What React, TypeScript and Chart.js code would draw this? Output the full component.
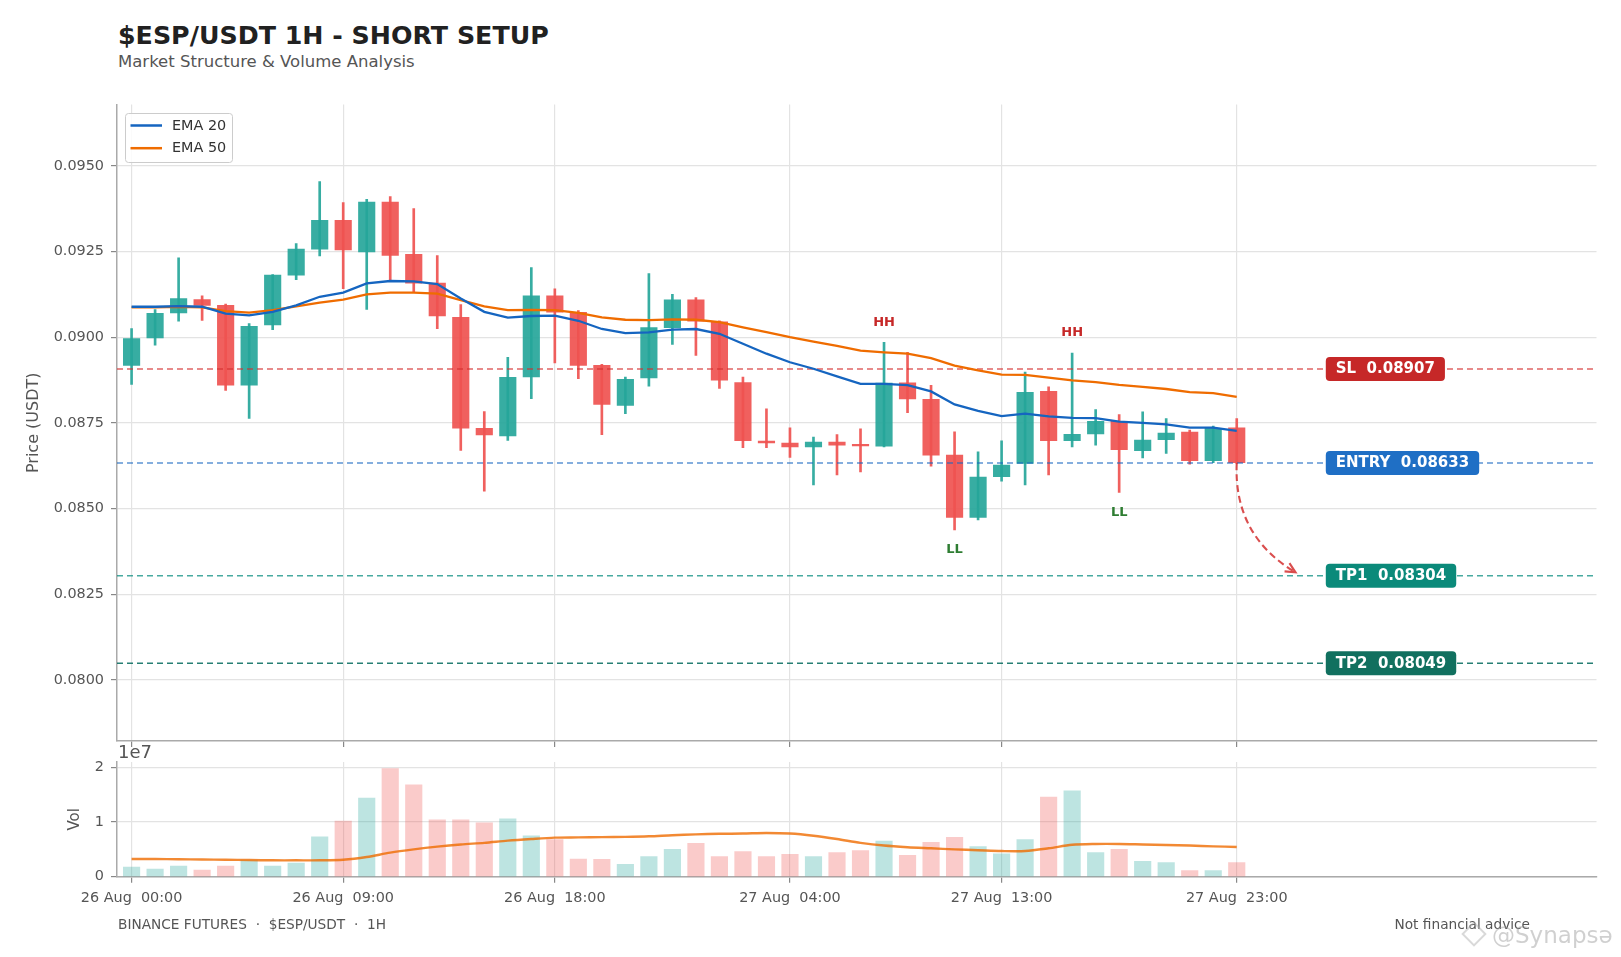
import React, { useEffect, useRef } from "react";
import { Chart, registerables } from "chart.js";

Chart.register(...registerables);

const FONT = "'DejaVu Sans', 'Noto Sans', sans-serif";

const categories = [
  "26 Aug 00:00", "26 Aug 01:00", "26 Aug 02:00", "26 Aug 03:00", "26 Aug 04:00", "26 Aug 05:00",
  "26 Aug 06:00", "26 Aug 07:00", "26 Aug 08:00", "26 Aug 09:00", "26 Aug 10:00", "26 Aug 11:00",
  "26 Aug 12:00", "26 Aug 13:00", "26 Aug 14:00", "26 Aug 15:00", "26 Aug 16:00", "26 Aug 17:00",
  "26 Aug 18:00", "26 Aug 19:00", "26 Aug 20:00", "26 Aug 21:00", "26 Aug 22:00", "26 Aug 23:00",
  "27 Aug 00:00", "27 Aug 01:00", "27 Aug 02:00", "27 Aug 03:00", "27 Aug 04:00", "27 Aug 05:00",
  "27 Aug 06:00", "27 Aug 07:00", "27 Aug 08:00", "27 Aug 09:00", "27 Aug 10:00", "27 Aug 11:00",
  "27 Aug 12:00", "27 Aug 13:00", "27 Aug 14:00", "27 Aug 15:00", "27 Aug 16:00", "27 Aug 17:00",
  "27 Aug 18:00", "27 Aug 19:00", "27 Aug 20:00", "27 Aug 21:00", "27 Aug 22:00", "27 Aug 23:00",
];

const opens = [
  0.08918, 0.08998, 0.09071, 0.0911, 0.09093, 0.0886, 0.09036, 0.09181, 0.09257, 0.09341, 0.09249, 0.09394,
  0.09242, 0.09158, 0.09058, 0.08734, 0.08712, 0.08884, 0.09121, 0.09073, 0.08918, 0.08801, 0.08881, 0.09028,
  0.09109, 0.09045, 0.08868, 0.08697, 0.08691, 0.0868, 0.08694, 0.08685, 0.08682, 0.08867, 0.08819, 0.08656,
  0.08474, 0.08593, 0.08632, 0.08842, 0.08698, 0.08718, 0.08755, 0.08669, 0.08701, 0.08723, 0.0864, 0.08736,
];
const highs = [
  0.09025, 0.09081, 0.09232, 0.09121, 0.09097, 0.0904, 0.09183, 0.09273, 0.09454, 0.09393, 0.09402, 0.0941,
  0.09375, 0.09238, 0.09095, 0.08783, 0.08941, 0.09203, 0.09141, 0.09078, 0.08921, 0.08884, 0.09186, 0.09125,
  0.09116, 0.09048, 0.08884, 0.08791, 0.08736, 0.08709, 0.08716, 0.08733, 0.08985, 0.08956, 0.0886, 0.08724,
  0.08666, 0.08698, 0.08898, 0.08855, 0.08954, 0.08789, 0.08774, 0.08782, 0.08763, 0.08729, 0.08741, 0.08763,
];
const lows = [
  0.08862, 0.08977, 0.09047, 0.09049, 0.08845, 0.08763, 0.09022, 0.09168, 0.09237, 0.09142, 0.09081, 0.09166,
  0.09132, 0.09025, 0.0867, 0.08551, 0.08699, 0.08821, 0.08925, 0.08879, 0.08716, 0.08777, 0.08857, 0.08979,
  0.08947, 0.08851, 0.08678, 0.08678, 0.08649, 0.08569, 0.08598, 0.08607, 0.0868, 0.0878, 0.08624, 0.08438,
  0.08467, 0.0858, 0.08569, 0.08598, 0.0868, 0.08685, 0.08547, 0.08648, 0.08661, 0.0863, 0.08634, 0.08632,
];
const closes = [
  0.08996, 0.0907, 0.09113, 0.09093, 0.0886, 0.09032, 0.09181, 0.09257, 0.09341, 0.09255, 0.09394, 0.09239,
  0.09158, 0.09062, 0.08735, 0.08715, 0.08883, 0.09121, 0.09073, 0.08918, 0.08804, 0.08877, 0.09028, 0.09109,
  0.09047, 0.08875, 0.08698, 0.08692, 0.0868, 0.08694, 0.08685, 0.08683, 0.08866, 0.0882, 0.08656, 0.08474,
  0.08592, 0.08627, 0.08839, 0.08698, 0.08717, 0.08755, 0.08672, 0.087, 0.0872, 0.0864, 0.08734, 0.08634,
];
const volumes = [
  1770000, 1400000, 1960000, 1220000, 1960000, 3060000, 1960000, 2500000, 7280000, 10200000, 14400000, 19800000,
  16800000, 10400000, 10400000, 9850000, 10600000, 7460000, 6800000, 3240000, 3200000, 2250000, 3700000, 5000000,
  6100000, 3700000, 4600000, 3700000, 4100000, 3700000, 4400000, 4800000, 6500000, 3900000, 6300000, 7200000,
  5500000, 4200000, 6800000, 14600000, 15700000, 4400000, 5000000, 2800000, 2600000, 1100000, 1100000, 2600000,
];
const ema20 = [
  0.09089, 0.09089, 0.09091, 0.09089, 0.09069, 0.09064, 0.09074, 0.09093, 0.09118, 0.0913, 0.09157, 0.09164,
  0.09163, 0.09155, 0.09113, 0.09074, 0.09057, 0.09062, 0.09063, 0.09048, 0.09024, 0.09012, 0.09014, 0.09022,
  0.09024, 0.0901, 0.08981, 0.08952, 0.08927, 0.08908, 0.08886, 0.08864, 0.08864, 0.0886, 0.08842, 0.08804,
  0.08785, 0.0877, 0.08777, 0.08769, 0.08765, 0.08764, 0.08754, 0.0875, 0.08746, 0.08736, 0.08736, 0.08727,
];
const ema50 = [
  0.09087, 0.09087, 0.09089, 0.09087, 0.09076, 0.09072, 0.09079, 0.0909, 0.09101, 0.0911, 0.09125, 0.0913,
  0.0913, 0.09127, 0.09108, 0.0909, 0.09079, 0.0908, 0.09079, 0.09071, 0.09058, 0.09051, 0.0905, 0.09052,
  0.09051, 0.09044, 0.09029, 0.09015, 0.09, 0.08987, 0.08975, 0.08961, 0.08956, 0.08952, 0.08939, 0.08917,
  0.08903, 0.08891, 0.0889, 0.08882, 0.08874, 0.08869, 0.08861, 0.08855, 0.08849, 0.0884, 0.08837, 0.08826,
];
const volMA = [
  3240000, 3230000, 3200000, 3150000, 3100000, 3050000, 3000000, 3000000, 3000000, 3100000, 3600000, 4400000,
  5000000, 5500000, 5900000, 6200000, 6600000, 6900000, 7150000, 7200000, 7250000, 7300000, 7400000, 7600000,
  7750000, 7850000, 7900000, 8000000, 7900000, 7500000, 6900000, 6200000, 5700000, 5400000, 5200000, 5000000,
  4850000, 4700000, 4700000, 5200000, 5850000, 6000000, 6000000, 5900000, 5800000, 5700000, 5550000, 5450000,
];

const xTickIndex = [0, 9, 18, 28, 37, 47];
const xTickLabels = ["26 Aug  00:00", "26 Aug  09:00", "26 Aug  18:00", "27 Aug  04:00", "27 Aug  13:00", "27 Aug  23:00"];
const priceTicks = [0.08, 0.0825, 0.085, 0.0875, 0.09, 0.0925, 0.095];
const volTicks = [0, 10000000, 20000000];
const levelNames = ["SL", "ENTRY", "TP1", "TP2"];
const levelValues = [0.08907, 0.08633, 0.08304, 0.08049];
const hhIndex = [32, 40];
const llIndex = [35, 42];

// view ranges / placement
const X_MIN = -0.62;
const X_MAX = 62.3;
const P_MIN = 0.07822;
const P_MAX = 0.09679;
const V_MAX = 21000000;
const LABEL_X = 51;
const LABEL_GAP = 0.00058;
const ARROW_END_X = 49.5;
const ARROW_END_Y = levelValues[2] + 0.0001;

const UP = "rgba(38,166,154,0.92)";
const DOWN = "rgba(239,83,80,0.92)";
const UP_VOL = "rgba(38,166,154,0.3)";
const DOWN_VOL = "rgba(239,83,80,0.3)";
const levelLineColors = ["rgba(211,47,47,0.75)", "rgba(21,101,192,0.7)", "rgba(0,137,123,0.72)", "rgba(0,105,92,0.85)"];
const levelBoxColors = ["#c62828", "#1f6fc5", "#0b8a7a", "#11705f"];
const GRID = "#e3e3e3";
const SPINE = "#aaaaaa";
const TICK = "#888888";
const TXT = "#555555";

const isUp = closes.map((c, i) => c >= opens[i]);

function zeroPad(scale: any) {
  scale.paddingTop = 0;
  scale.paddingBottom = 0;
  scale.paddingLeft = 0;
  scale.paddingRight = 0;
}

const gridOpts = { color: GRID, lineWidth: 1.2, tickLength: 6, tickColor: TICK, tickWidth: 1.2, offset: false };

const overlay = {
  id: "overlay",
  afterDatasetsDraw(chart: any) {
    const ctx = chart.ctx as CanvasRenderingContext2D;
    const xs = chart.scales.x;
    const ys = chart.scales.y;
    const area = chart.chartArea;
    ctx.save();

    // swing labels
    ctx.font = `bold 13px ${FONT}`;
    ctx.textAlign = "center";
    ctx.textBaseline = "middle";
    ctx.fillStyle = "#c62828";
    hhIndex.forEach((i) => ctx.fillText("HH", xs.getPixelForValue(i), ys.getPixelForValue(highs[i] + LABEL_GAP)));
    ctx.fillStyle = "#2e7d32";
    llIndex.forEach((i) => ctx.fillText("LL", xs.getPixelForValue(i), ys.getPixelForValue(lows[i] - LABEL_GAP)));

    // curved projection arrow
    const last = closes.length - 1;
    const x1 = xs.getPixelForValue(last);
    const y1 = ys.getPixelForValue(levelValues[1]);
    const x2 = xs.getPixelForValue(ARROW_END_X);
    const y2 = ys.getPixelForValue(ARROW_END_Y);
    const rad = -0.3;
    const cx = (x1 + x2) / 2 + rad * (y2 - y1);
    const cy = (y1 + y2) / 2 - rad * (x2 - x1);
    ctx.strokeStyle = "rgba(211,47,47,0.85)";
    ctx.lineWidth = 2.1;
    ctx.setLineDash([7, 4]);
    ctx.beginPath();
    ctx.moveTo(x1, y1);
    ctx.quadraticCurveTo(cx, cy, x2, y2);
    ctx.stroke();
    ctx.setLineDash([]);
    const ang = Math.atan2(y2 - cy, x2 - cx);
    const L = 11;
    const sp = 0.45;
    ctx.beginPath();
    ctx.moveTo(x2 - L * Math.cos(ang - sp), y2 - L * Math.sin(ang - sp));
    ctx.lineTo(x2, y2);
    ctx.lineTo(x2 - L * Math.cos(ang + sp), y2 - L * Math.sin(ang + sp));
    ctx.stroke();

    // level boxes
    ctx.font = `bold 15px ${FONT}`;
    ctx.textAlign = "left";
    ctx.textBaseline = "middle";
    levelNames.forEach((name, k) => {
      const text = `${name}  ${levelValues[k].toFixed(5)}`;
      const y = ys.getPixelForValue(levelValues[k]);
      const x = xs.getPixelForValue(LABEL_X) - 5;
      const w = ctx.measureText(text).width + 20;
      const h = 24;
      ctx.fillStyle = levelBoxColors[k];
      ctx.beginPath();
      (ctx as any).roundRect(x, y - h / 2, w, h, 4);
      ctx.fill();
      ctx.fillStyle = "#ffffff";
      ctx.fillText(text, x + 10, y + 0.5);
    });

    // legend
    const lx = area.left + 8.5;
    const ly = area.top + 9;
    ctx.fillStyle = "rgba(255,255,255,0.85)";
    ctx.strokeStyle = "#cccccc";
    ctx.lineWidth = 1;
    ctx.beginPath();
    (ctx as any).roundRect(lx, ly, 107, 49, 3);
    ctx.fill();
    ctx.stroke();
    ctx.font = `14.4px ${FONT}`;
    ctx.textBaseline = "middle";
    [0, 1].forEach((d) => {
      const ds = chart.data.datasets[d];
      const yy = ly + 12 + d * 22.7;
      ctx.strokeStyle = ds.borderColor;
      ctx.lineWidth = 2.5;
      ctx.beginPath();
      ctx.moveTo(lx + 5, yy);
      ctx.lineTo(lx + 36.5, yy);
      ctx.stroke();
      ctx.fillStyle = "#333333";
      ctx.fillText(ds.label, lx + 46.5, yy + 0.5);
    });

    ctx.restore();
  },
};

export default function App() {
  const mainRef = useRef<HTMLCanvasElement | null>(null);
  const volRef = useRef<HTMLCanvasElement | null>(null);

  useEffect(() => {
    Chart.defaults.font.family = FONT;
    const bodyColors = isUp.map((u) => (u ? UP : DOWN));
    const volColors = isUp.map((u) => (u ? UP_VOL : DOWN_VOL));

    const main = new Chart(mainRef.current as HTMLCanvasElement, {
      type: "bar",
      data: {
        labels: categories,
        datasets: [
          {
            type: "line",
            label: "EMA 20",
            data: ema20.map((v, i) => ({ x: i, y: v })),
            borderColor: "#1565c0",
            borderWidth: 2.3,
            pointRadius: 0,
            order: 0,
          } as any,
          {
            type: "line",
            label: "EMA 50",
            data: ema50.map((v, i) => ({ x: i, y: v })),
            borderColor: "#ef6c00",
            borderWidth: 2.3,
            pointRadius: 0,
            order: 1,
          } as any,
          ...levelValues.map(
            (v, k) =>
              ({
                type: "line",
                label: levelNames[k],
                data: [
                  { x: X_MIN, y: v },
                  { x: X_MAX, y: v },
                ],
                borderColor: levelLineColors[k],
                borderWidth: 1.5,
                borderDash: [6, 4],
                pointRadius: 0,
                order: 2,
              } as any)
          ),
          {
            type: "bar",
            label: "body",
            data: opens.map((o, i) => ({ x: i, y: [o, closes[i]] })),
            backgroundColor: bodyColors,
            barThickness: 16.5,
            grouped: false,
            minBarLength: 1.5,
            borderWidth: 0,
            order: 3,
          } as any,
          {
            type: "bar",
            label: "wick",
            data: lows.map((l, i) => ({ x: i, y: [l, highs[i]] })),
            backgroundColor: bodyColors,
            barThickness: 2,
            grouped: false,
            borderWidth: 0,
            order: 4,
          } as any,
        ],
      },
      options: {
        animation: false,
        responsive: false,
        events: [],
        layout: { padding: { top: 14.5, right: 24.5, bottom: 0, left: 0 } },
        plugins: { legend: { display: false }, tooltip: { enabled: false } },
        scales: {
          x: {
            type: "linear",
            min: X_MIN,
            max: X_MAX,
            offset: false,
            afterBuildTicks: (s: any) => {
              s.ticks = xTickIndex.map((v) => ({ value: v }));
            },
            afterFit: (s: any) => {
              s.height = 19;
              zeroPad(s);
            },
            ticks: { display: false },
            grid: gridOpts,
            border: { display: true, color: SPINE, width: 1.5 },
          },
          y: {
            type: "linear",
            min: P_MIN,
            max: P_MAX,
            afterBuildTicks: (s: any) => {
              s.ticks = priceTicks.map((v) => ({ value: v }));
            },
            afterFit: (s: any) => {
              s.width = 117;
              zeroPad(s);
            },
            ticks: {
              callback: (v: any) => Number(v).toFixed(4),
              font: { size: 14.4, family: FONT },
              color: TXT,
              padding: 7,
            },
            grid: gridOpts,
            border: { display: true, color: SPINE, width: 1.5 },
            title: {
              display: true,
              text: "Price (USDT)",
              font: { size: 16, family: FONT },
              color: TXT,
              padding: { top: 24, bottom: 0 },
            },
          },
        },
      } as any,
      plugins: [overlay],
    });

    const vol = new Chart(volRef.current as HTMLCanvasElement, {
      type: "bar",
      data: {
        labels: categories,
        datasets: [
          {
            type: "line",
            label: "Vol MA",
            data: volMA.map((v, i) => ({ x: i, y: v })),
            borderColor: "rgba(239,108,0,0.8)",
            borderWidth: 2.4,
            pointRadius: 0,
            tension: 0.3,
            order: 0,
          } as any,
          {
            type: "bar",
            label: "Volume",
            data: volumes.map((v, i) => ({ x: i, y: v })),
            backgroundColor: volColors,
            barThickness: 16.5,
            borderWidth: 0,
            order: 1,
          } as any,
        ],
      },
      options: {
        animation: false,
        responsive: false,
        events: [],
        layout: { padding: { top: 7, right: 24.5, bottom: 0, left: 0 } },
        plugins: { legend: { display: false }, tooltip: { enabled: false } },
        scales: {
          x: {
            type: "linear",
            min: X_MIN,
            max: X_MAX,
            offset: false,
            afterBuildTicks: (s: any) => {
              s.ticks = xTickIndex.map((v) => ({ value: v }));
            },
            afterFit: (s: any) => {
              s.height = 80.3;
              zeroPad(s);
            },
            ticks: {
              autoSkip: false,
              maxRotation: 0,
              callback: (v: any) => {
                const k = xTickIndex.indexOf(Number(v));
                return k >= 0 ? xTickLabels[k] : "";
              },
              font: { size: 14.4, family: FONT },
              color: TXT,
              padding: 7,
            },
            grid: gridOpts,
            border: { display: true, color: SPINE, width: 1.5 },
          },
          y: {
            type: "linear",
            min: 0,
            max: V_MAX,
            afterBuildTicks: (s: any) => {
              s.ticks = volTicks.map((v) => ({ value: v }));
            },
            afterFit: (s: any) => {
              s.width = 117;
              zeroPad(s);
            },
            ticks: {
              callback: (v: any) => String(Number(v) / 10000000),
              font: { size: 14.4, family: FONT },
              color: TXT,
              padding: 7,
            },
            grid: gridOpts,
            border: { display: true, color: SPINE, width: 1.5 },
            title: {
              display: true,
              text: "Vol",
              font: { size: 15, family: FONT },
              color: TXT,
              padding: { top: 66, bottom: 0 },
            },
          },
        },
      } as any,
    });

    return () => {
      main.destroy();
      vol.destroy();
    };
  }, []);

  const abs = (extra: React.CSSProperties): React.CSSProperties => ({
    position: "absolute",
    whiteSpace: "pre",
    lineHeight: 1,
    fontFamily: FONT,
    ...extra,
  });

  return (
    <div
      style={{
        position: "absolute",
        left: 0,
        top: 0,
        width: 1621,
        height: 957,
        background: "#ffffff",
        overflow: "hidden",
        fontFamily: FONT,
      }}
    >
      <div style={abs({ left: 118, top: 23, fontSize: 25.3, fontWeight: "bold", color: "#212121" })}>
        $ESP/USDT 1H - SHORT SETUP
      </div>
      <div style={abs({ left: 118, top: 54, fontSize: 16.5, color: "#555555" })}>Market Structure &amp; Volume Analysis</div>
      <canvas
        ref={mainRef}
        width={1621}
        height={670}
        style={{ position: "absolute", left: 0, top: 90, width: 1621, height: 670 }}
      />
      <canvas
        ref={volRef}
        width={1621}
        height={202}
        style={{ position: "absolute", left: 0, top: 755, width: 1621, height: 202 }}
      />
      <div style={abs({ left: 118, top: 743, fontSize: 18, color: "#555555" })}>1e7</div>
      <div style={abs({ left: 118, top: 918, fontSize: 13.7, color: "#555555" })}>
        {"BINANCE FUTURES  ·  $ESP/USDT  ·  1H"}
      </div>
      <div style={abs({ right: 1621 - 1530, top: 918, fontSize: 13.7, color: "#555555" })}>Not financial advice</div>
      <div
        style={{
          position: "absolute",
          left: 1465,
          top: 925,
          width: 14,
          height: 14,
          border: "2px solid rgba(170,170,170,0.45)",
          transform: "rotate(45deg)",
        }}
      />
      <div style={abs({ left: 1492, top: 924, fontSize: 23, color: "rgba(150,150,150,0.45)" })}>@Synapsə</div>
    </div>
  );
}
